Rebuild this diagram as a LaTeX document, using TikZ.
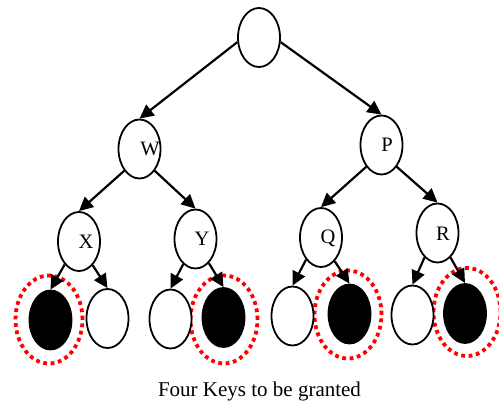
\documentclass[tikz,border=0pt]{standalone}
\usepackage{fontspec}
\setmainfont{Liberation Serif}
\usetikzlibrary{shapes.geometric,arrows.meta}
\begin{document}
\begin{tikzpicture}[x=1pt,y=-1pt,
  vertex/.style={ellipse,draw=black,line width=1.8pt,fill=white,inner sep=0pt,minimum width=42pt,minimum height=59pt},
  leafwhite/.style={vertex},
  leafblack/.style={vertex,fill=black},
  keyring/.style={ellipse,draw=red,line width=3.8pt,dash pattern=on 3.8pt off 3.6pt,inner sep=0pt,minimum width=67pt,minimum height=88pt},
  lbl/.style={font=\fontsize{20.5}{22}\selectfont,inner sep=0pt},
  edge/.style={line width=2.2pt,-{Triangle[length=14pt,width=13.5pt]}}
]
\useasboundingbox (0,0) rectangle (499,405);
% red rings
\node[keyring] (k1) at (49,319.5) {};
\node[keyring] (k4) at (224,319.5) {};
\node[keyring] (k6) at (348,314.5) {};
\node[keyring] (k8) at (467,312) {};
% tree nodes
\node[vertex] (root) at (259,37.5) {};
\node[vertex] (W) at (139.5,149) {};
\node[vertex] (P) at (381.5,145) {};
\node[vertex] (X) at (79,241.5) {};
\node[vertex] (Y) at (195.5,239) {};
\node[vertex] (Q) at (321,237.5) {};
\node[vertex] (R) at (437.5,233) {};
\node[leafblack] (l1) at (50.5,320) {};
\node[leafwhite] (l2) at (107.5,318.5) {};
\node[leafwhite] (l3) at (170.5,319) {};
\node[leafblack] (l4) at (223.5,317.5) {};
\node[leafwhite] (l5) at (292.5,316) {};
\node[leafblack] (l6) at (349.5,314) {};
\node[leafwhite] (l7) at (412.5,315) {};
\node[leafblack] (l8) at (465,313.5) {};
% labels
\node[lbl] (tW) at (150,149) {W};
\node[lbl] (tP) at (387,145) {P};
\node[lbl] (tX) at (86,242) {X};
\node[lbl] (tY) at (202,239) {Y};
\node[lbl] (tQ) at (328,238) {Q};
\node[lbl] (tR) at (443,234) {R};
% edges
\draw[edge] (root.192) -- (W.north);
\draw[edge] (root.348) -- (P.north);
\draw[edge] (W.235) -- (X.north);
\draw[edge] (W.305) -- (Y.north);
\draw[edge] (P.235) -- (Q.north);
\draw[edge] (P.305) -- (R.north);
\draw[edge] (X.238) -- (l1.north);
\draw[edge] (X.300) -- (l2.north);
\draw[edge] (Y.244) -- (l3.north);
\draw[edge] (Y.299) -- (l4.north);
\draw[edge] (Q.236) -- (l5.north);
\draw[edge] (Q.300) -- (l6.north);
\draw[edge] (R.242) -- (l7.north);
\draw[edge] (R.298) -- (l8.north);
% caption
\node[lbl,font=\fontsize{21}{22}\selectfont] (cap) at (259.5,391.5) {Four Keys to be granted};
\end{tikzpicture}
\end{document}
